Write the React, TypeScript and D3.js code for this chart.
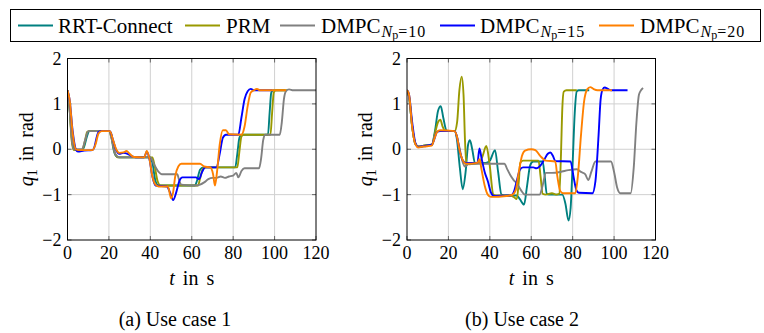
import * as d3 from "d3";

type Pt = [number, number];

const SERIES = ["RRT-Connect", "PRM", "DMPC", "DMPC", "DMPC"];
const SUBS = ["", "", "=10", "=15", "=20"];
const COLORS = ["#008080", "#999900", "#808080", "#0000ff", "#ff8000"];
const X_TICKS = [0, 20, 40, 60, 80, 100, 120];
const Y_TICKS = [-2, -1, 0, 1, 2];
const CAPTIONS = ["(a) Use case 1", "(b) Use case 2"];

// use case 1: [t in s, q1 in rad]
const rrt1: Pt[] = [[0, 1.3], [1, 0.9], [2, 0.3], [3, 0.02], [4, -0.02], [7, -0.02], [8, 0.05], [9.5, 0.3], [10.5, 0.4], [20, 0.4], [21, 0.35], [22, 0.05], [23.5, -0.15], [25, -0.18], [40, -0.18], [41, -0.3], [42.5, -0.7], [44, -0.8], [61.5, -0.8], [62.5, -0.7], [64, -0.45], [65.5, -0.4], [81, -0.4], [82, -0.1], [83, 0.25], [84, 0.32], [96.8, 0.32], [97.6, 0.8], [98.4, 1.25], [99.3, 1.3], [105, 1.3]];
const prm1: Pt[] = [[0, 1.3], [1, 0.9], [2, 0.2], [3, -0.02], [7, -0.02], [8.5, 0.2], [9.5, 0.38], [10.5, 0.4], [20, 0.4], [21.5, 0.2], [23, -0.1], [24.5, -0.18], [41, -0.18], [42, -0.35], [43.5, -0.7], [45, -0.8], [63, -0.8], [64, -0.65], [65.5, -0.42], [67, -0.4], [82, -0.4], [83, -0.05], [84, 0.28], [85, 0.32], [98, 0.32], [98.8, 0.8], [99.6, 1.25], [100.5, 1.3], [106, 1.3]];
const dmpc10_1: Pt[] = [[0, 1.3], [1, 0.9], [2, 0.25], [3, 0.0], [7, 0.0], [8.5, 0.2], [10, 0.4], [20, 0.4], [21.5, 0.2], [23, -0.1], [25, -0.18], [40, -0.18], [42, -0.35], [44, -0.5], [45.5, -0.55], [53, -0.55], [54, -0.7], [55, -0.78], [62, -0.8], [64, -0.78], [66, -0.73], [68, -0.66], [70, -0.63], [72, -0.63], [74, -0.6], [76, -0.63], [78, -0.6], [80, -0.58], [81.5, -0.52], [82.5, -0.62], [84, -0.48], [85.5, -0.42], [92.5, -0.42], [93.5, -0.2], [94.5, 0.2], [95.5, 0.32], [102.5, 0.32], [103.5, 0.6], [104.5, 1.1], [105.5, 1.28], [107, 1.32], [109, 1.3], [120, 1.3]];
const dmpc15_1: Pt[] = [[0, 1.3], [1, 1.1], [2.5, 0.4], [4, 0.0], [5, -0.05], [8, -0.03], [12, -0.02], [13, 0.05], [14, 0.25], [15, 0.38], [16, 0.4], [20.5, 0.4], [22, 0.2], [23.5, -0.02], [25, -0.1], [27, -0.08], [29, -0.1], [31, -0.15], [33, -0.18], [37, -0.18], [38.3, -0.05], [39.5, -0.2], [41, -0.6], [42.5, -0.8], [48, -0.82], [49.5, -0.95], [51, -1.12], [52.5, -0.95], [54, -0.7], [55.5, -0.62], [62, -0.62], [63.5, -0.66], [65, -0.5], [66.5, -0.4], [72, -0.4], [73.5, -0.1], [75, 0.25], [76.5, 0.32], [82.5, 0.32], [84, 0.7], [85.5, 1.1], [87, 1.28], [88.5, 1.33], [90, 1.3], [99, 1.3]];
const dmpc20_1: Pt[] = [[0, 1.3], [1, 1.1], [2.5, 0.35], [4, 0.0], [5.5, -0.02], [12, -0.02], [13.5, 0.1], [15, 0.35], [16.5, 0.4], [20.5, 0.4], [22, 0.2], [23.5, 0.0], [25, -0.08], [27, -0.07], [28.5, -0.04], [30, -0.1], [32, -0.17], [37, -0.18], [38.3, -0.04], [39.5, -0.2], [41, -0.6], [42.5, -0.78], [44, -0.82], [48.5, -0.82], [50, -1.08], [51, -0.95], [52, -0.6], [53.5, -0.38], [55, -0.32], [64, -0.32], [66, -0.38], [69, -0.4], [70.3, -0.55], [71.2, -0.8], [72.2, -0.5], [73.5, 0.1], [75, 0.42], [76.5, 0.42], [78, 0.33], [84, 0.32], [85.5, 0.5], [87, 0.95], [88.5, 1.25], [90, 1.3], [91.5, 1.33], [93, 1.3], [105.5, 1.3]];

// use case 2
const rrt2: Pt[] = [[0, 1.3], [1, 1.15], [2.5, 0.5], [4, 0.12], [5.5, 0.06], [8, 0.08], [12, 0.1], [13.5, 0.4], [15, 0.85], [16.3, 0.95], [17.5, 0.7], [19, 0.42], [20, 0.4], [23, 0.4], [24, 0.25], [25.5, -0.4], [26.9, -0.88], [28.3, -0.5], [29.5, 0.1], [30.4, 0.2], [31.5, 0.0], [32.8, -0.3], [34, -0.3], [38, -0.3], [40, -0.25], [42.5, -0.02], [44, -0.5], [45.6, -1.0], [47, -1.02], [53, -1.02], [54.5, -1.1], [56.5, -1.22], [58, -0.8], [59.5, -0.35], [61, -0.27], [65.5, -0.27], [66.5, -0.6], [67.5, -0.98], [68.5, -1.0], [75, -1.0], [76.5, -1.2], [78, -1.57], [79, -1.3], [80, -0.3], [81, 0.8], [82, 1.28], [83, 1.3], [88, 1.3]];
const prm2: Pt[] = [[0, 1.3], [1, 1.15], [2.5, 0.5], [4, 0.12], [5.5, 0.06], [8, 0.08], [12, 0.1], [13.5, 0.35], [15, 0.6], [16.1, 0.65], [17.2, 0.5], [18.5, 0.4], [23, 0.4], [24.2, 0.6], [25.3, 1.3], [26.4, 1.6], [27.3, 1.2], [28, 0.2], [28.7, -0.3], [30, -0.33], [35, -0.3], [36.5, -0.15], [38.3, 0.07], [39.8, -0.3], [41.7, -1.0], [43, -1.02], [50, -1.02], [51.5, -1.05], [53, -1.1], [54, -0.7], [54.7, -0.3], [56, -0.25], [63.5, -0.25], [64.5, -0.6], [65.5, -0.98], [67, -1.0], [70, -0.97], [72, -1.0], [73.5, -0.98], [74.3, -0.2], [75, 0.9], [75.7, 1.27], [77, 1.3], [82, 1.3]];
const dmpc10_2: Pt[] = [[0, 1.3], [1, 1.15], [2.5, 0.5], [4, 0.12], [5.5, 0.06], [12, 0.1], [13.5, 0.3], [15, 0.4], [23, 0.4], [25, 0.1], [27, -0.3], [28, -0.38], [30, -0.32], [47, -0.32], [48.5, -0.45], [50, -0.58], [51.5, -0.68], [53, -0.75], [55, -0.9], [57, -1.0], [64, -1.0], [65.5, -0.8], [67, -0.52], [70, -0.52], [74, -0.5], [78, -0.46], [82, -0.44], [84, -0.5], [86, -0.55], [87.6, -0.68], [89, -0.5], [91, -0.27], [98.5, -0.27], [100, -0.5], [101.5, -0.85], [103, -0.97], [108, -0.97], [109.5, -0.4], [110.8, 0.6], [112, 1.2], [113, 1.3], [114, 1.35]];
const dmpc15_2: Pt[] = [[0, 1.3], [1, 1.2], [2.5, 0.6], [4, 0.15], [5.5, 0.05], [8, 0.07], [12, 0.1], [13, 0.2], [14.5, 0.38], [16, 0.4], [23, 0.4], [24, 0.3], [25.5, -0.05], [27, -0.25], [28.5, -0.3], [34, -0.3], [35, 0.02], [36, -0.2], [37.5, -0.5], [39, -0.7], [40.5, -0.95], [42, -1.03], [50, -1.02], [51.5, -0.95], [53, -0.7], [54.5, -0.45], [56, -0.4], [61, -0.4], [62.5, -0.42], [64, -0.38], [66, -0.25], [68, -0.1], [69.2, -0.07], [70.5, -0.15], [71.6, -0.26], [79, -0.27], [80.4, -0.6], [81.8, -0.9], [83, -0.96], [89.5, -0.97], [91, -0.7], [92.5, 0.3], [93.5, 1.1], [94.5, 1.32], [95.5, 1.36], [97, 1.33], [98.5, 1.3], [106.5, 1.3]];
const dmpc20_2: Pt[] = [[0, 1.3], [1, 1.2], [2.5, 0.5], [4, 0.12], [5.5, 0.04], [8, 0.06], [12, 0.08], [13, 0.2], [14.5, 0.38], [16, 0.42], [23, 0.4], [24, 0.3], [25.5, -0.05], [27, -0.25], [28.5, -0.32], [34, -0.3], [35, -0.22], [36, -0.45], [37.5, -0.8], [39, -1.0], [40.5, -1.05], [48, -1.03], [51, -1.0], [52.5, -0.9], [54, -0.5], [55.5, -0.15], [57, -0.03], [60, 0.0], [62, -0.02], [64.4, -0.15], [67, -0.25], [71.6, -0.27], [72.6, -0.6], [74, -0.92], [75.5, -0.97], [81.3, -0.97], [82.5, -0.6], [84, 0.3], [85.5, 1.05], [87, 1.32], [88.5, 1.37], [90, 1.33], [92, 1.3], [99, 1.3]];

const CASES = [
	[rrt1, prm1, dmpc10_1, dmpc15_1, dmpc20_1],
	[rrt2, prm2, dmpc10_2, dmpc15_2, dmpc20_2],
];

const FONT = "Liberation Serif";
const TOP = 58.5;
const BOTTOM = 240;
const PANELS = [
	{ left: 67.5, right: 316, capX: 175 },
	{ left: 407, right: 655.5, capX: 522 },
];
const LEG_LINE_X = [18, 185, 280, 440, 599];
const LEG_TEXT_X = [58, 226, 321, 480, 640];

function Panel({ i }: { i: number }) {
	const p = PANELS[i];
	const x = d3.scaleLinear().domain([0, 120]).range([p.left, p.right]);
	const y = d3.scaleLinear().domain([-2, 2]).range([BOTTOM, TOP]);
	const line = d3.line<Pt>()
		.x(d => x(d[0]))
		.y(d => y(d[1]))
		.curve(d3.curveMonotoneX);
	const clipId = `clip-${i}`;
	const midY = (TOP + BOTTOM) / 2;

	return (
		<g>
			<clipPath id={clipId}>
				<rect x={p.left} y={TOP} width={p.right - p.left} height={BOTTOM - TOP} />
			</clipPath>

			{/* grid */}
			{X_TICKS.slice(1, -1).map(t => (
				<line key={"gx" + t} x1={x(t)} x2={x(t)} y1={TOP} y2={BOTTOM} stroke="#d0d0d0" strokeWidth={1} />
			))}
			{Y_TICKS.slice(1, -1).map(t => (
				<line key={"gy" + t} x1={p.left} x2={p.right} y1={y(t)} y2={y(t)} stroke="#d0d0d0" strokeWidth={1} />
			))}

			{/* inward ticks on all sides */}
			{X_TICKS.map(t => (
				<g key={"tx" + t} stroke="#666" strokeWidth={1}>
					<line x1={x(t)} x2={x(t)} y1={BOTTOM} y2={BOTTOM - 4} />
					<line x1={x(t)} x2={x(t)} y1={TOP} y2={TOP + 4} />
				</g>
			))}
			{Y_TICKS.map(t => (
				<g key={"ty" + t} stroke="#666" strokeWidth={1}>
					<line x1={p.left} x2={p.left + 4} y1={y(t)} y2={y(t)} />
					<line x1={p.right} x2={p.right - 4} y1={y(t)} y2={y(t)} />
				</g>
			))}

			{/* series */}
			{CASES[i].map((s, k) => (
				<path
					key={"s" + k}
					d={line(s) ?? ""}
					fill="none"
					stroke={COLORS[k]}
					strokeWidth={1.9}
					strokeLinejoin="round"
					clipPath={`url(#${clipId})`}
				/>
			))}

			<rect x={p.left} y={TOP} width={p.right - p.left} height={BOTTOM - TOP} fill="none" stroke="#000" strokeWidth={1} />

			{/* tick labels */}
			{X_TICKS.map(t => (
				<text key={"lx" + t} x={x(t)} y={BOTTOM + 19} textAnchor="middle" fontFamily={FONT} fontSize={18}>
					{t}
				</text>
			))}
			{Y_TICKS.map(t => (
				<text key={"ly" + t} x={p.left - 6} y={y(t) + 6} textAnchor="end" fontFamily={FONT} fontSize={18}>
					{t < 0 ? "\u2212" + Math.abs(t) : String(t)}
				</text>
			))}

			{/* axis labels */}
			<text x={(p.left + p.right) / 2} y={BOTTOM + 45} textAnchor="middle" fontFamily={FONT} fontSize={20} wordSpacing={3}>
				<tspan fontStyle="italic">t</tspan>
				<tspan> in s</tspan>
			</text>
			<text
				transform={`translate(${p.left - 35},${midY}) rotate(-90)`}
				textAnchor="middle"
				fontFamily={FONT}
				fontSize={20}
				wordSpacing={3}
			>
				<tspan fontStyle="italic">q</tspan>
				<tspan fontSize={14} dy={4}>1</tspan>
				<tspan dy={-4}> in rad</tspan>
			</text>

			<text x={p.capX} y={326} textAnchor="middle" fontFamily={FONT} fontSize={20}>
				{CAPTIONS[i]}
			</text>
		</g>
	);
}

export default function App() {
	return (
		<svg
			width={764}
			height={333}
			style={{ position: "absolute", left: 0, top: 0, background: "#fff" }}
		>
			<Panel i={0} />
			<Panel i={1} />

			{/* legend */}
			<g>
				<rect x={10.5} y={9.5} width={750} height={32} fill="#fff" stroke="#000" strokeWidth={1} />
				{SERIES.map((name, k) => (
					<g key={"leg" + k}>
						<line x1={LEG_LINE_X[k]} x2={LEG_LINE_X[k] + 35} y1={25.5} y2={25.5} stroke={COLORS[k]} strokeWidth={2} />
						<text x={LEG_TEXT_X[k]} y={33} fontFamily={FONT} fontSize={21}>
							{name}
							{SUBS[k] && (
								<>
									<tspan fontSize={16} fontStyle="italic" dy={4} dx={1}>N</tspan>
									<tspan fontSize={12} dy={2}>p</tspan>
									<tspan fontSize={16} dy={-2} letterSpacing={1}>{SUBS[k]}</tspan>
								</>
							)}
						</text>
					</g>
				))}
			</g>
		</svg>
	);
}
